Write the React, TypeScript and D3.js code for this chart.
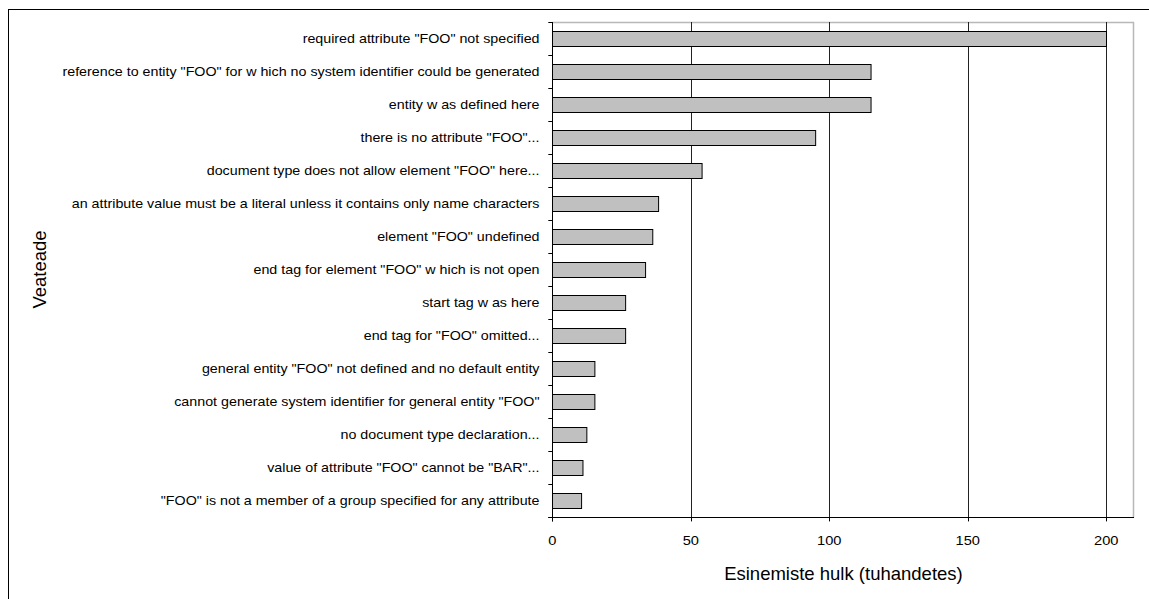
import React from "react";
import * as d3 from "d3";

const categories: string[] = [
  'required attribute "FOO" not specified',
  'reference to entity "FOO" for w hich no system identifier could be generated',
  'entity w as defined here',
  'there is no attribute "FOO"...',
  'document type does not allow element "FOO" here...',
  'an attribute value must be a literal unless it contains only name characters',
  'element "FOO" undefined',
  'end tag for element "FOO" w hich is not open',
  'start tag w as here',
  'end tag for "FOO" omitted...',
  'general entity "FOO" not defined and no default entity',
  'cannot generate system identifier for general entity "FOO"',
  'no document type declaration...',
  'value of attribute "FOO" cannot be "BAR"...',
  '"FOO" is not a member of a group specified for any attribute',
];
const values: number[] = [200, 115, 115, 95, 54, 38.3, 36.2, 33.6, 26.4, 26.4, 15.3, 15.3, 12.4, 11, 10.5];
const xTicks: number[] = [0, 50, 100, 150, 200];
const xMax = 210;
const xTitle = "Esinemiste hulk (tuhandetes)";
const yTitle = "Veateade";

const W = 1149;
const H = 599;
const plot = { left: 552.3, right: 1134, top: 22, bottom: 517.4 };
const FONT = "Liberation Sans, Arial, sans-serif";

export default function App() {
  const x = d3.scaleLinear().domain([0, xMax]).range([plot.left, plot.right]);
  const y = d3
    .scaleBand<string>()
    .domain(categories)
    .range([plot.top, plot.bottom])
    .paddingInner(0.55)
    .paddingOuter(0.275);
  const step = y.step();
  const boundaries = d3.range(categories.length + 1).map((i) => plot.top + i * step);

  return (
    <svg
      width={W}
      height={H}
      style={{ position: "fixed", left: 0, top: 0, background: "#fff" }}
      fontFamily={FONT}
    >
      <rect x={0} y={0} width={W} height={H} fill="#fff" />
      {/* outer chart border */}
      <rect x={8.5} y={9.5} width={W + 20} height={H + 20} fill="none" stroke="#000" strokeWidth={1} />

      {/* plot area frame (top/right grey) */}
      <line x1={plot.left} x2={plot.right} y1={plot.top + 0.5} y2={plot.top + 0.5} stroke="#b8b8b8" strokeWidth={1.5} />
      <line x1={plot.right - 0.5} x2={plot.right - 0.5} y1={plot.top} y2={plot.bottom} stroke="#b8b8b8" strokeWidth={1.5} />

      {/* gridlines */}
      {xTicks.filter((t) => t > 0).map((t) => (
        <line key={"g" + t} x1={Math.round(x(t)) + 0.5} x2={Math.round(x(t)) + 0.5} y1={plot.top} y2={plot.bottom} stroke="#222" strokeWidth={1} />
      ))}

      {/* bars */}
      {categories.map((c, i) => (
        <g key={"b" + i}>
          <rect
            x={Math.round(x(0)) + 0.5}
            y={Math.round(y(c)!) + 0.5}
            width={x(values[i]) - x(0)}
            height={Math.round(y.bandwidth())}
            fill="#c0c0c0"
            stroke="#000"
            strokeWidth={1}
          />
        </g>
      ))}

      {/* axes */}
      <line x1={Math.round(plot.left) + 0.5} x2={Math.round(plot.left) + 0.5} y1={plot.top} y2={plot.bottom + 4} stroke="#000" strokeWidth={1} />
      <line x1={plot.left - 4} x2={plot.right} y1={Math.round(plot.bottom) + 0.5} y2={Math.round(plot.bottom) + 0.5} stroke="#000" strokeWidth={1} />
      {boundaries.map((b, i) => (
        <line key={"yt" + i} x1={plot.left - 4} x2={plot.left} y1={Math.round(b) + 0.5} y2={Math.round(b) + 0.5} stroke="#000" strokeWidth={1} />
      ))}
      {xTicks.map((t) => (
        <line key={"xt" + t} x1={Math.round(x(t)) + 0.5} x2={Math.round(x(t)) + 0.5} y1={plot.bottom} y2={plot.bottom + 4} stroke="#000" strokeWidth={1} />
      ))}

      {/* category labels */}
      {categories.map((c, i) => (
        <g key={"l" + i} transform={`translate(539.5, ${y(c)! + y.bandwidth() / 2}) scale(1.19,1)`}>
          <text x={0} y={0} dy="0.36em" textAnchor="end" fontSize={12} fill="#000">
            {c}
          </text>
        </g>
      ))}

      {/* x tick labels */}
      {xTicks.map((t) => (
        <g key={"xl" + t} transform={`translate(${x(t)}, 545) scale(1.22,1)`}>
          <text x={0} y={0} textAnchor="middle" fontSize={12} fill="#000">
            {t}
          </text>
        </g>
      ))}

      {/* axis titles */}
      <text x={(plot.left + plot.right) / 2 + 0.3} y={580} textAnchor="middle" fontSize={18.5} fill="#000">
        {xTitle}
      </text>
      <text
        transform={`translate(45.5, 269.5) rotate(-90)`}
        textAnchor="middle"
        fontSize={18.5}
        fill="#000"
      >
        {yTitle}
      </text>
    </svg>
  );
}
